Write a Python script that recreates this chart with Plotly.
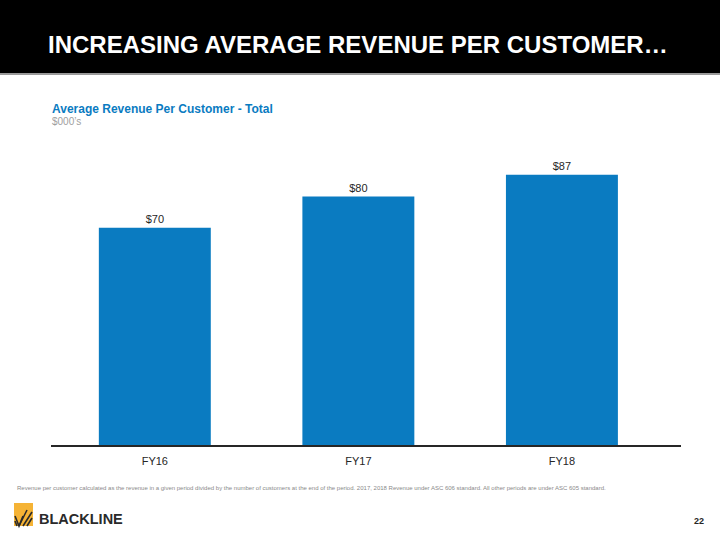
import plotly.graph_objects as go

categories = ["FY16", "FY17", "FY18"]
values = [70, 80, 87]
labels = ["$70", "$80", "$87"]

W, H = 720, 540
def py(y):
    return 1 - y / H
def px(x):
    return x / W

FONT = "Liberation Sans, Arial, sans-serif"
BLUE = "#0a7bc1"
DARK = "#262626"

fig = go.Figure(go.Bar(
    x=list(range(len(categories))), y=values, text=labels,
    textposition="outside", cliponaxis=False,
    textfont=dict(family=FONT, size=11, color=DARK),
    marker=dict(color=BLUE, line=dict(width=0)), width=0.55,
    hoverinfo="skip",
))

logo_lines = [
    [(15, 516), (19, 526), (23, 516)],
    [(19, 526), (27, 510)],
    [(23, 526), (32, 512)],
    [(27, 526), (32, 518)],
    [(15, 521), (17, 526)],
]
shapes = [
    dict(type="rect", xref="paper", yref="paper", x0=0, x1=1, y0=py(73), y1=1,
         fillcolor="black", line=dict(width=0), layer="below"),
    dict(type="rect", xref="paper", yref="paper", x0=0, x1=1, y0=py(75), y1=py(73),
         fillcolor="#9a9a9a", line=dict(width=0)),
    dict(type="rect", xref="paper", yref="paper", x0=px(14), x1=px(33), y0=py(526), y1=py(503),
         fillcolor="#f5b335", line=dict(width=0)),
]
for pts in logo_lines:
    path = "M " + " L ".join(f"{px(a)},{py(b)}" for a, b in pts)
    shapes.append(dict(type="path", xref="paper", yref="paper", path=path,
                       line=dict(color="#2a2a2a", width=1.6)))

fig.update_layout(
    width=W, height=H, margin=dict(l=0, r=0, t=0, b=0),
    plot_bgcolor="white", paper_bgcolor="white", showlegend=False,
    xaxis=dict(domain=[px(51), px(681)], range=[-0.51, 2.585],
               tickvals=list(range(len(categories))), ticktext=categories,
               showgrid=False, zeroline=False, showline=True,
               linecolor=DARK, linewidth=1.5, ticks="", ticklabelstandoff=5,
               tickfont=dict(family=FONT, size=11, color=DARK)),
    yaxis=dict(domain=[py(445), py(150)], range=[0, 95], visible=False),
    shapes=shapes,
    annotations=[
        dict(text="<b>INCREASING AVERAGE REVENUE PER CUSTOMER…</b>", xref="paper", yref="paper",
             x=px(358), y=py(44), xanchor="center", yanchor="middle", showarrow=False,
             font=dict(family=FONT, size=24, color="white")),
        dict(text="<b>Average Revenue Per Customer - Total</b>", xref="paper", yref="paper",
             x=px(50), y=py(109), xanchor="left", yanchor="middle", showarrow=False,
             font=dict(family=FONT, size=12, color=BLUE)),
        dict(text="$000’s", xref="paper", yref="paper",
             x=px(50), y=py(122), xanchor="left", yanchor="middle", showarrow=False,
             font=dict(family=FONT, size=10, color="#a0a0a0")),
        dict(text="Revenue per customer calculated as the revenue in a given period divided by the number of customers at the end of the period. 2017, 2018 Revenue under ASC 606 standard. All other periods are under ASC 605 standard.",
             xref="paper", yref="paper",
             x=px(15), y=py(488), xanchor="left", yanchor="middle", showarrow=False,
             font=dict(family=FONT, size=6, color="#8a8a8a")),
        dict(text="<b>BLACKLINE</b>", xref="paper", yref="paper",
             x=px(37), y=py(518.5), xanchor="left", yanchor="middle", showarrow=False,
             font=dict(family=FONT, size=14.5, color="#2a2a2a")),
        dict(text="<b>22</b>", xref="paper", yref="paper",
             x=px(699), y=py(521), xanchor="center", yanchor="middle", showarrow=False,
             font=dict(family=FONT, size=9, color=DARK)),
    ],
)

fig.write_html("out.html", config={"displayModeBar": False},
               post_script="document.body.style.margin='0';document.body.style.padding='0';")
